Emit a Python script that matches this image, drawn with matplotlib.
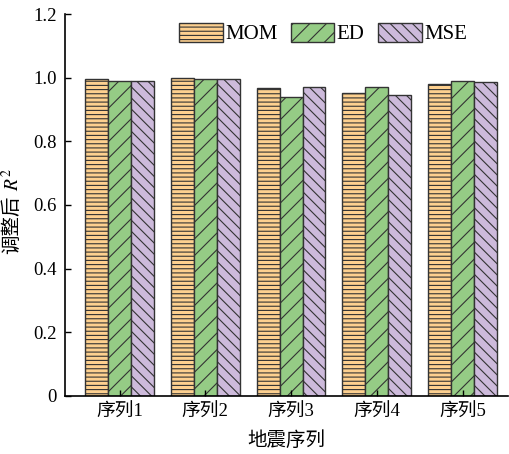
import numpy as np
import matplotlib
matplotlib.use("Agg")
import matplotlib.pyplot as plt

plt.rcParams['font.family'] = ['Liberation Serif', 'Noto Sans CJK SC']
plt.rcParams['mathtext.fontset'] = 'stix'
plt.rcParams['hatch.linewidth'] = 0.8
plt.rcParams['hatch.color'] = '#333333'

# data
categories = ['序列1', '序列2', '序列3', '序列4', '序列5']
series_names = ['MOM', 'ED', 'MSE']
mom = [0.995, 0.998, 0.968, 0.951, 0.980]
ed = [0.990, 0.996, 0.939, 0.970, 0.990]
mse = [0.991, 0.996, 0.970, 0.947, 0.985]
y_ticks = [0, 0.2, 0.4, 0.6, 0.8, 1.0, 1.2]

colors = ['#FDD08F', '#95CC85', '#CDBADB']
hatches = ['----', '//', '\\\\\\']

fig = plt.figure(figsize=(5.09, 4.54), dpi=100)
ax = fig.add_axes([0.128, 0.128, 0.87, 0.841])

x = np.arange(len(categories))
width = 0.267
for i, (vals, name) in enumerate(zip([mom, ed, mse], series_names)):
    ax.bar(x + (i - 1) * width, vals, width, color=colors[i], edgecolor='#333333',
           linewidth=1.0, hatch=hatches[i], label=name)

ax.set_xlim(-0.635, 4.53)
ax.set_ylim(0, 1.2)
ax.set_yticks(y_ticks)
ax.set_yticklabels(['0', '0.2', '0.4', '0.6', '0.8', '1.0', '1.2'])
ax.set_xticks(x)
ax.set_xticklabels(categories)
ax.tick_params(direction='in', length=4, width=1, labelsize=13.5, pad=6)

for side in ['top', 'right']:
    ax.spines[side].set_visible(False)
for side in ['left', 'bottom']:
    ax.spines[side].set_linewidth(1.2)

ax.set_xlabel('地震序列', fontsize=14, labelpad=7)

# y label: CJK part plus italic R^2 drawn as two pieces
fig.text(12 / 509, 1 - 225 / 454, '调整后', rotation=90, fontsize=14,
         ha='center', va='center')
fig.text(12 / 509, 1 - 191 / 454, '$R^2$', rotation=90, fontsize=14,
         ha='center', va='bottom')

ax.legend(loc='upper center', bbox_to_anchor=(0.582, 1.015), ncol=3, frameon=False,
          fontsize=15, handlelength=2.1, handleheight=1.0, columnspacing=0.63,
          handletextpad=0.12, borderaxespad=0.3)

fig.savefig('out.png', dpi=100)
